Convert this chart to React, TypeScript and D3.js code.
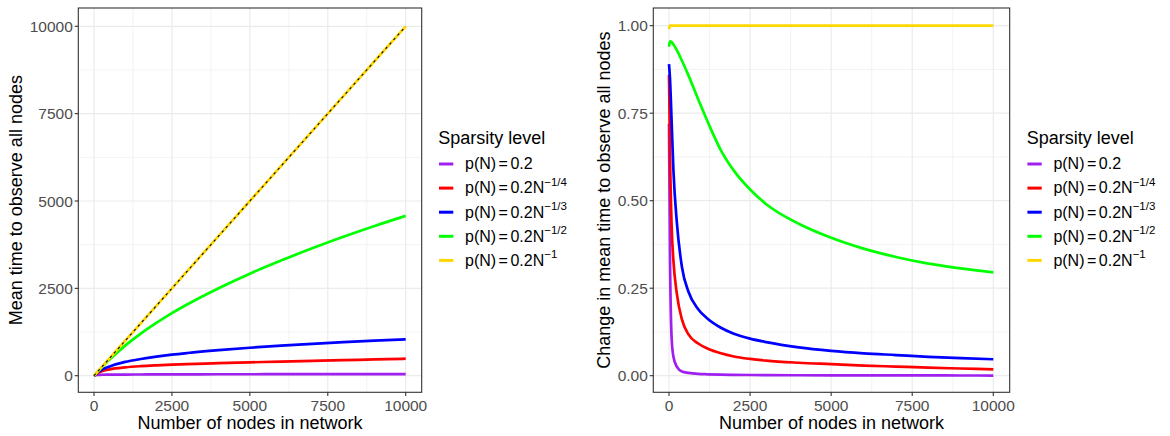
import React from "react";
import * as d3 from "d3";

// ---------- data ----------
const nodesLeft = [0, 100, 250, 500, 1000, 1500, 2000, 2500, 3000, 4000, 5000, 6000, 7000, 8000, 9000, 10000];
const timeConst = [0, 22, 27, 30, 33, 35, 37, 38, 39, 41, 42, 43, 44, 45, 45, 46];
const timeQuarter = [0, 65, 130, 182, 238, 272, 296, 316, 334, 360, 382, 405, 425, 445, 466, 486];
const timeThird = [0, 85, 172, 265, 395, 478, 546, 603, 650, 730, 800, 860, 912, 960, 1002, 1040];
const timeHalf = [0, 98, 240, 460, 860, 1205, 1510, 1790, 2045, 2505, 2920, 3295, 3645, 3975, 4285, 4575];
const timeInverse = [0, 100, 250, 500, 1000, 1500, 2000, 2500, 3000, 4000, 5000, 6000, 7000, 8000, 9000, 10000];
const referenceLine = [0, 100, 250, 500, 1000, 1500, 2000, 2500, 3000, 4000, 5000, 6000, 7000, 8000, 9000, 10000];

const nodesRight = [0, 30, 80, 135, 240, 400, 600, 900, 1200, 1600, 2000, 2500, 3000, 4000, 5000, 6000, 7000, 8000, 9000, 10000];
const changeConst = [0.72, 0.35, 0.11, 0.055, 0.026, 0.012, 0.008, 0.005, 0.004, 0.003, 0.0025, 0.002, 0.0017, 0.0013, 0.001, 0.0009, 0.0008, 0.0007, 0.0006, 0.0005];
const changeQuarter = [0.86, 0.64, 0.43, 0.33, 0.235, 0.16, 0.118, 0.092, 0.077, 0.064, 0.055, 0.048, 0.043, 0.037, 0.033, 0.029, 0.026, 0.023, 0.0205, 0.018];
const changeThird = [0.89, 0.85, 0.73, 0.59, 0.44, 0.31, 0.24, 0.19, 0.162, 0.137, 0.12, 0.106, 0.096, 0.081, 0.071, 0.064, 0.059, 0.054, 0.05, 0.047];
const changeHalf = [0.94, 0.955, 0.953, 0.947, 0.93, 0.9, 0.858, 0.79, 0.724, 0.644, 0.586, 0.532, 0.49, 0.434, 0.394, 0.363, 0.339, 0.32, 0.3065, 0.295];
const changeInverse = [0.99, 1, 1, 1, 1, 1, 1, 1, 1, 1, 1, 1, 1, 1, 1, 1, 1, 1, 1, 1];

const xTicks = [0, 2500, 5000, 7500, 10000];
const xMinor = [1250, 3750, 6250, 8750];
const yTicksLeft = [0, 2500, 5000, 7500, 10000];
const yMinorLeft = [1250, 3750, 6250, 8750];
const yTicksRight = [0, 0.25, 0.5, 0.75, 1];
const yTickLabelsRight = ["0.00", "0.25", "0.50", "0.75", "1.00"];
const yMinorRight = [0.125, 0.375, 0.625, 0.875];

const seriesColors = ["#A020F0", "#FF0000", "#0000FF", "#00FF00", "#FFD700"];
const legendSup = ["", "\u22121/4", "\u22121/3", "\u22121/2", "\u22121"];

const FONT = "'Liberation Sans', Arial, Helvetica, sans-serif";

type PanelProps = {
  x0: number; x1: number; y0: number; y1: number;
  xs: d3.ScaleLinear<number, number>;
  ys: d3.ScaleLinear<number, number>;
  yTicks: number[]; yLabels: string[]; yMinor: number[];
  nodes: number[]; series: number[][];
  yTitle: string; yTitleX: number;
  dashed?: number[];
};

function Panel(p: PanelProps) {
  const lines = p.series.map((vals) =>
    d3.line<number>()
      .x((_, i) => p.xs(p.nodes[i]))
      .y((v) => p.ys(v))
      .curve(d3.curveMonotoneX)(vals) as string
  );
  const dashPath = p.dashed
    ? (d3.line<number>().x((_, i) => p.xs(p.nodes[i])).y((v) => p.ys(v))(p.dashed) as string)
    : null;
  const clipId = "clip" + Math.round(p.x0);
  const cx = (p.x0 + p.x1) / 2;
  const cy = (p.y0 + p.y1) / 2;
  return (
    <g>
      <defs>
        <clipPath id={clipId}>
          <rect x={p.x0} y={p.y0} width={p.x1 - p.x0} height={p.y1 - p.y0} />
        </clipPath>
      </defs>
      <rect x={p.x0} y={p.y0} width={p.x1 - p.x0} height={p.y1 - p.y0} fill="#fff" />
      {xMinor.map((t) => (
        <line key={"xm" + t} x1={p.xs(t)} x2={p.xs(t)} y1={p.y0} y2={p.y1} stroke="#EBEBEB" strokeWidth={0.6} />
      ))}
      {p.yMinor.map((t) => (
        <line key={"ym" + t} y1={p.ys(t)} y2={p.ys(t)} x1={p.x0} x2={p.x1} stroke="#EBEBEB" strokeWidth={0.6} />
      ))}
      {xTicks.map((t) => (
        <line key={"xM" + t} x1={p.xs(t)} x2={p.xs(t)} y1={p.y0} y2={p.y1} stroke="#EBEBEB" strokeWidth={1.2} />
      ))}
      {p.yTicks.map((t) => (
        <line key={"yM" + t} y1={p.ys(t)} y2={p.ys(t)} x1={p.x0} x2={p.x1} stroke="#EBEBEB" strokeWidth={1.2} />
      ))}
      <g clipPath={`url(#${clipId})`}>
        {lines.map((d, i) => (
          <path key={i} d={d} fill="none" stroke={seriesColors[i]} strokeWidth={2.7} strokeLinejoin="round" />
        ))}
        {dashPath && (
          <path d={dashPath} fill="none" stroke="#000" strokeWidth={1.1} strokeDasharray="2.5 3.5" />
        )}
      </g>
      <rect x={p.x0} y={p.y0} width={p.x1 - p.x0} height={p.y1 - p.y0} fill="none" stroke="#333333" strokeWidth={1.1} />
      {xTicks.map((t) => (
        <g key={"xt" + t}>
          <line x1={p.xs(t)} x2={p.xs(t)} y1={p.y1} y2={p.y1 + 3.6} stroke="#333333" strokeWidth={1.1} />
          <text x={p.xs(t)} y={410.5} textAnchor="middle" fontSize={15.5} fill="#4D4D4D" fontFamily={FONT}>
            {String(t)}
          </text>
        </g>
      ))}
      {p.yTicks.map((t, i) => (
        <g key={"yt" + t}>
          <line x1={p.x0 - 3.6} x2={p.x0} y1={p.ys(t)} y2={p.ys(t)} stroke="#333333" strokeWidth={1.1} />
          <text x={p.x0 - 5.5} y={p.ys(t)} dy="0.36em" textAnchor="end" fontSize={15.5} fill="#4D4D4D" fontFamily={FONT}>
            {p.yLabels[i]}
          </text>
        </g>
      ))}
      <text x={cx} y={429} textAnchor="middle" fontSize={18} fill="#000" fontFamily={FONT}>
        Number of nodes in network
      </text>
      <text
        transform={`translate(${p.yTitleX},${cy}) rotate(-90)`}
        textAnchor="middle" fontSize={18} fill="#000" fontFamily={FONT}
      >
        {p.yTitle}
      </text>
    </g>
  );
}

function Legend({ x }: { x: number }) {
  const rows = seriesColors.map((c, i) => ({ c, sup: legendSup[i], y: 164 + i * 24.1 }));
  return (
    <g fontFamily={FONT}>
      <text x={x} y={144} fontSize={18} fill="#000">Sparsity level</text>
      {rows.map((r, i) => (
        <g key={i}>
          <line x1={x + 0.7} x2={x + 15} y1={r.y} y2={r.y} stroke={r.c} strokeWidth={3} />
          <text x={x + 26.7} y={r.y + 5.3} fontSize={16} fill="#000">
            <tspan>p(N)</tspan>
            <tspan dx={2.5}>=</tspan>
            <tspan dx={2.5}>{i === 0 ? "0.2" : "0.2N"}</tspan>
            {r.sup && (
              <tspan dy={-7.5} fontSize={11.5}>{r.sup}</tspan>
            )}
          </text>
        </g>
      ))}
    </g>
  );
}

export default function App() {
  const y0 = 8, y1 = 392.3;
  const xsL = d3.scaleLinear().domain([0, 10000]).range([94, 405.7]);
  const ysL = d3.scaleLinear().domain([0, 10000]).range([375.7, 26.3]);
  const xsR = d3.scaleLinear().domain([0, 10000]).range([669, 993.3]);
  const ysR = d3.scaleLinear().domain([0, 1]).range([375.7, 25.7]);
  return (
    <svg width={1170} height={436} style={{ position: "absolute", left: 0, top: 0, background: "#fff" }}>
      <rect width={1170} height={436} fill="#fff" />
      <Panel
        x0={78.3} x1={421.7} y0={y0} y1={y1} xs={xsL} ys={ysL}
        yTicks={yTicksLeft} yLabels={yTicksLeft.map(String)} yMinor={yMinorLeft}
        nodes={nodesLeft}
        series={[timeConst, timeQuarter, timeThird, timeHalf, timeInverse]}
        yTitle="Mean time to observe all nodes" yTitleX={22}
        dashed={referenceLine}
      />
      <Legend x={438.3} />
      <Panel
        x0={653.3} x1={1009.7} y0={y0} y1={y1} xs={xsR} ys={ysR}
        yTicks={yTicksRight} yLabels={yTickLabelsRight} yMinor={yMinorRight}
        nodes={nodesRight}
        series={[changeConst, changeQuarter, changeThird, changeHalf, changeInverse]}
        yTitle="Change in mean time to observe all nodes" yTitleX={610}
      />
      <Legend x={1026.7} />
    </svg>
  );
}
